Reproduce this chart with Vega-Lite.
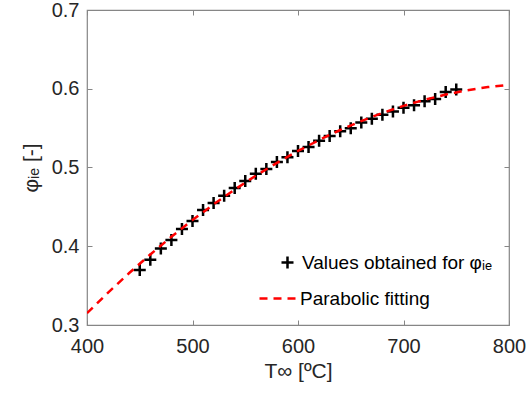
{
  "$schema": "https://vega.github.io/schema/vega-lite/v6.json",
  "width": 422,
  "height": 315,
  "autosize": "none",
  "padding": {"left": 87, "top": 10, "right": 19, "bottom": 73},
  "background": "white",
  "config": {
    "view": {"stroke": "#868686", "strokeWidth": 1.2},
    "font": "Liberation Sans",
    "axis": {
      "grid": false,
      "domain": false,
      "tickColor": "#868686",
      "tickSize": -5,
      "labelFlush": false,
      "labelFont": "Liberation Sans",
      "labelFontSize": 20,
      "labelColor": "#262626",
      "titleFont": "Liberation Sans",
      "titleFontSize": 21,
      "titleFontWeight": "normal",
      "titleColor": "#262626"
    },
    "legend": {
      "padding": 0,
      "labelFont": "Liberation Sans",
      "labelFontSize": 19,
      "labelColor": "#000000",
      "labelLimit": 400,
      "title": null
    }
  },
  "datasets": {
    "pts": [
      {"T": 450, "phi": 0.370, "series": "Values obtained for φᵢₑ"},
      {"T": 460, "phi": 0.383, "series": "Values obtained for φᵢₑ"},
      {"T": 470, "phi": 0.397, "series": "Values obtained for φᵢₑ"},
      {"T": 480, "phi": 0.408, "series": "Values obtained for φᵢₑ"},
      {"T": 490, "phi": 0.422, "series": "Values obtained for φᵢₑ"},
      {"T": 500, "phi": 0.432, "series": "Values obtained for φᵢₑ"},
      {"T": 510, "phi": 0.446, "series": "Values obtained for φᵢₑ"},
      {"T": 520, "phi": 0.455, "series": "Values obtained for φᵢₑ"},
      {"T": 530, "phi": 0.464, "series": "Values obtained for φᵢₑ"},
      {"T": 540, "phi": 0.474, "series": "Values obtained for φᵢₑ"},
      {"T": 550, "phi": 0.483, "series": "Values obtained for φᵢₑ"},
      {"T": 560, "phi": 0.492, "series": "Values obtained for φᵢₑ"},
      {"T": 570, "phi": 0.498, "series": "Values obtained for φᵢₑ"},
      {"T": 580, "phi": 0.507, "series": "Values obtained for φᵢₑ"},
      {"T": 590, "phi": 0.513, "series": "Values obtained for φᵢₑ"},
      {"T": 600, "phi": 0.521, "series": "Values obtained for φᵢₑ"},
      {"T": 610, "phi": 0.526, "series": "Values obtained for φᵢₑ"},
      {"T": 620, "phi": 0.534, "series": "Values obtained for φᵢₑ"},
      {"T": 630, "phi": 0.540, "series": "Values obtained for φᵢₑ"},
      {"T": 640, "phi": 0.546, "series": "Values obtained for φᵢₑ"},
      {"T": 650, "phi": 0.550, "series": "Values obtained for φᵢₑ"},
      {"T": 660, "phi": 0.557, "series": "Values obtained for φᵢₑ"},
      {"T": 670, "phi": 0.562, "series": "Values obtained for φᵢₑ"},
      {"T": 680, "phi": 0.567, "series": "Values obtained for φᵢₑ"},
      {"T": 690, "phi": 0.571, "series": "Values obtained for φᵢₑ"},
      {"T": 700, "phi": 0.576, "series": "Values obtained for φᵢₑ"},
      {"T": 710, "phi": 0.579, "series": "Values obtained for φᵢₑ"},
      {"T": 720, "phi": 0.584, "series": "Values obtained for φᵢₑ"},
      {"T": 730, "phi": 0.587, "series": "Values obtained for φᵢₑ"},
      {"T": 740, "phi": 0.596, "series": "Values obtained for φᵢₑ"},
      {"T": 750, "phi": 0.599, "series": "Values obtained for φᵢₑ"}
    ],
    "fit": [
      {"T": 400, "phi": 0.315, "series": "Parabolic fitting"},
      {"T": 420, "phi": 0.3411, "series": "Parabolic fitting"},
      {"T": 440, "phi": 0.3660, "series": "Parabolic fitting"},
      {"T": 460, "phi": 0.3896, "series": "Parabolic fitting"},
      {"T": 480, "phi": 0.4120, "series": "Parabolic fitting"},
      {"T": 500, "phi": 0.4333, "series": "Parabolic fitting"},
      {"T": 520, "phi": 0.4532, "series": "Parabolic fitting"},
      {"T": 540, "phi": 0.4720, "series": "Parabolic fitting"},
      {"T": 560, "phi": 0.4896, "series": "Parabolic fitting"},
      {"T": 580, "phi": 0.5059, "series": "Parabolic fitting"},
      {"T": 600, "phi": 0.5210, "series": "Parabolic fitting"},
      {"T": 620, "phi": 0.5349, "series": "Parabolic fitting"},
      {"T": 640, "phi": 0.5476, "series": "Parabolic fitting"},
      {"T": 660, "phi": 0.5590, "series": "Parabolic fitting"},
      {"T": 680, "phi": 0.5692, "series": "Parabolic fitting"},
      {"T": 700, "phi": 0.5783, "series": "Parabolic fitting"},
      {"T": 720, "phi": 0.5860, "series": "Parabolic fitting"},
      {"T": 740, "phi": 0.5926, "series": "Parabolic fitting"},
      {"T": 760, "phi": 0.5980, "series": "Parabolic fitting"},
      {"T": 780, "phi": 0.6021, "series": "Parabolic fitting"},
      {"T": 800, "phi": 0.6050, "series": "Parabolic fitting"}
    ]
  },
  "resolve": {"axis": {"x": "independent", "y": "independent"}},
  "layer": [
    {
      "data": {"name": "pts"},
      "mark": {"type": "point", "filled": false, "color": "#000000", "size": 144, "strokeWidth": 2.5, "opacity": 1},
      "encoding": {
        "x": {"field": "T", "type": "quantitative",
              "scale": {"domain": [400, 800], "nice": false},
              "axis": {"orient": "bottom", "title": "T∞ [ºC]", "values": [400, 500, 600, 700, 800], "labelPadding": 16, "titlePadding": 4}},
        "y": {"field": "phi", "type": "quantitative",
              "scale": {"domain": [0.3, 0.7], "nice": false, "zero": false},
              "axis": {"orient": "left", "title": "φᵢₑ [-]", "values": [0.3, 0.4, 0.5, 0.6, 0.7], "format": ".1f", "labelPadding": 13, "titlePadding": 10}},
        "shape": {"field": "series", "type": "nominal",
                  "scale": {"domain": ["Values obtained for φᵢₑ"], "range": ["M-1,0H1M0,-1V1"]},
                  "legend": {
                    "orient": "none",
                    "legendX": 191,
                    "legendY": 243,
                    "symbolSize": 144,
                    "symbolStrokeWidth": 2.5,
                    "symbolStrokeColor": "#000000",
                    "symbolOpacity": 1,
                    "labelOffset": 5
                  }}
      }
    },
    {
      "data": {"name": "fit"},
      "mark": {"type": "line", "color": "#ff0000", "strokeWidth": 2.5, "clip": true},
      "encoding": {
        "x": {"field": "T", "type": "quantitative",
              "axis": {"orient": "top", "labels": false, "title": null, "values": [400, 500, 600, 700, 800]}},
        "y": {"field": "phi", "type": "quantitative",
              "axis": {"orient": "right", "labels": false, "title": null, "values": [0.3, 0.4, 0.5, 0.6, 0.7]}},
        "strokeDash": {"field": "series", "type": "nominal",
                       "scale": {"domain": ["Parabolic fitting"], "range": [[8, 6]]},
                       "legend": {
                         "orient": "none",
                         "legendX": 171,
                         "legendY": 268,
                         "symbolType": "stroke",
                         "symbolSize": 1444,
                         "symbolStrokeWidth": 2.5,
                         "symbolStrokeColor": "#ff0000",
                         "labelOffset": 1
                       }}
      }
    }
  ]
}
